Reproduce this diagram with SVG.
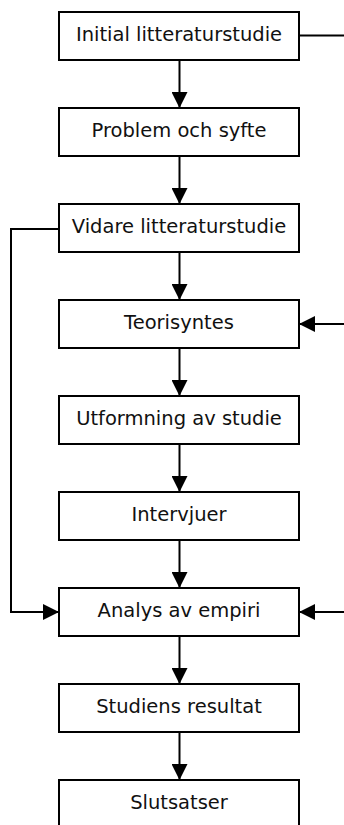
<svg xmlns="http://www.w3.org/2000/svg" width="344" height="825" viewBox="0 0 344 825">
<defs>
<style>
.box{fill:#fff;stroke:#000;stroke-width:2}
.lbl{font-family:"DejaVu Sans",Verdana,sans-serif;font-size:19.5px;fill:#111;text-anchor:middle}
.ln{fill:none;stroke:#000;stroke-width:2}
</style>
<marker id="ah" markerUnits="userSpaceOnUse" markerWidth="16" markerHeight="16" refX="16" refY="8" orient="auto" viewBox="0 0 16 16">
<path d="M0,0 L16,8 L0,16 Z" fill="#000"/>
</marker>
</defs>
<rect width="344" height="825" fill="#fff"/>
<g id="connectors">
<line class="ln" x1="179.5" y1="60" x2="179.5" y2="108" marker-end="url(#ah)"/>
<line class="ln" x1="179.5" y1="156" x2="179.5" y2="204" marker-end="url(#ah)"/>
<line class="ln" x1="179.5" y1="252" x2="179.5" y2="300" marker-end="url(#ah)"/>
<line class="ln" x1="179.5" y1="348" x2="179.5" y2="396" marker-end="url(#ah)"/>
<line class="ln" x1="179.5" y1="444" x2="179.5" y2="492" marker-end="url(#ah)"/>
<line class="ln" x1="179.5" y1="540" x2="179.5" y2="588" marker-end="url(#ah)"/>
<line class="ln" x1="179.5" y1="636" x2="179.5" y2="684" marker-end="url(#ah)"/>
<line class="ln" x1="179.5" y1="732" x2="179.5" y2="780" marker-end="url(#ah)"/>
<line class="ln" x1="299" y1="35.5" x2="345" y2="35.5"/>
<line class="ln" x1="345" y1="324" x2="299" y2="324" marker-end="url(#ah)"/>
<line class="ln" x1="345" y1="612" x2="299" y2="612" marker-end="url(#ah)"/>
<polyline class="ln" points="59,229 11,229 11,612 59,612" marker-end="url(#ah)"/>
</g>
<g id="n1"><rect class="box" x="59" y="12" width="240" height="48"/><text class="lbl" x="179" y="41">Initial litteraturstudie</text></g>
<g id="n2"><rect class="box" x="59" y="108" width="240" height="48"/><text class="lbl" x="179" y="137">Problem och syfte</text></g>
<g id="n3"><rect class="box" x="59" y="204" width="240" height="48"/><text class="lbl" x="179" y="233">Vidare litteraturstudie</text></g>
<g id="n4"><rect class="box" x="59" y="300" width="240" height="48"/><text class="lbl" x="179" y="329">Teorisyntes</text></g>
<g id="n5"><rect class="box" x="59" y="396" width="240" height="48"/><text class="lbl" x="179" y="425">Utformning av studie</text></g>
<g id="n6"><rect class="box" x="59" y="492" width="240" height="48"/><text class="lbl" x="179" y="521">Intervjuer</text></g>
<g id="n7"><rect class="box" x="59" y="588" width="240" height="48"/><text class="lbl" x="179" y="617">Analys av empiri</text></g>
<g id="n8"><rect class="box" x="59" y="684" width="240" height="48"/><text class="lbl" x="179" y="713">Studiens resultat</text></g>
<g id="n9"><rect class="box" x="59" y="780" width="240" height="48"/><text class="lbl" x="179" y="809">Slutsatser</text></g>
</svg>
